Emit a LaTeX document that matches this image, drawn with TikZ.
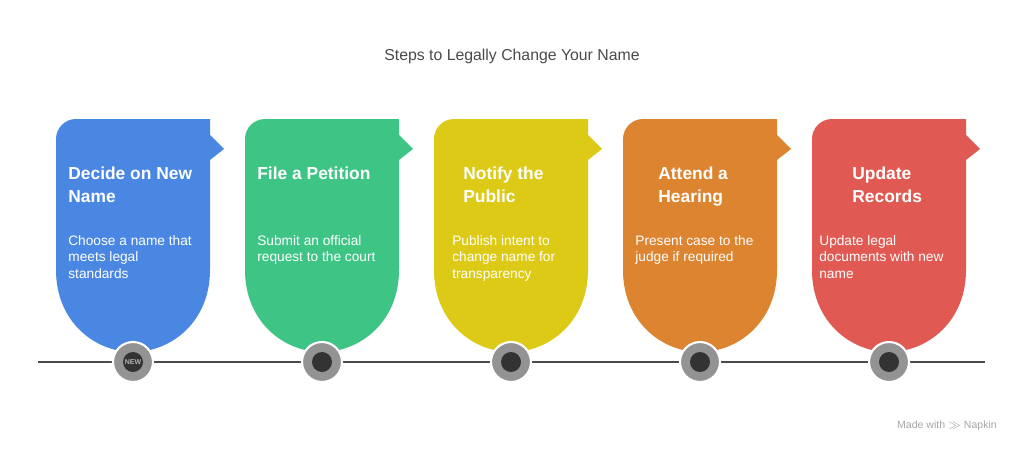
\documentclass[tikz,border=0pt]{standalone}
\usepackage{fontspec}
\setmainfont{Liberation Sans}
\usetikzlibrary{positioning}
\definecolor{cblue}{HTML}{4A87E2}
\definecolor{cgreen}{HTML}{3EC585}
\definecolor{cyellow}{HTML}{DCCA17}
\definecolor{corange}{HTML}{DD8431}
\definecolor{cred}{HTML}{E05A53}
\definecolor{cline}{HTML}{4A4A4A}
\tikzset{
heading/.style={anchor=north west, align=left, text=white, font=\bfseries\fontsize{9.9}{12.6}\selectfont, inner sep=0pt},
body/.style={anchor=north west, align=left, text=white, font=\fontsize{7.8}{9.4}\selectfont, inner sep=0pt},
icon/.style={circle, fill=gray!85, draw=white, line width=1.2pt, minimum size=0.8cm, inner sep=0pt}
}
\begin{document}
\begin{tikzpicture}[x=0.02cm, y=-0.02cm]
\useasboundingbox (0,0) rectangle (1024,453);

\node (title) at (512,56) {\fontsize{9}{11}\selectfont\color{cline} Steps to Legally Change Your Name};

\draw[cline, line width=1pt] (38,362) -- (985,362);

\foreach \i/\col/\hx/\headtxt/\bx/\bodytxt in {
0/cblue/12/{Decide on New\\Name}/12/{Choose a name that\\meets legal\\standards},
1/cgreen/12/{File a Petition}/12/{Submit an official\\request to the court},
2/cyellow/29/{Notify the\\Public}/18/{Publish intent to\\change name for\\transparency},
3/corange/35/{Attend a\\Hearing}/12/{Present case to the\\judge if required},
4/cred/40/{Update\\Records}/7/{Update legal\\documents with new\\name}}
{
\pgfmathsetmacro{\L}{56+189*\i}
\fill[\col] (\L,139) arc (180:270:20) -- (\L+154,119) -- (\L+154,135) -- (\L+168,149)
  -- (\L+154,160) -- (\L+154,270) .. controls (\L+154,322) and (\L+115,352) .. (\L+77,352)
  .. controls (\L+39,352) and (\L,322) .. (\L,270) -- cycle;
\node[heading] (head\i) at (\L+\hx,167) {\headtxt};
\node[body] (text\i) at (\L+\bx,235) {\bodytxt};
\node[icon] (icon\i) at (\L+77,362) {};
\fill[gray!40!black] (icon\i.center) circle (10);
}
\node[font=\fontsize{4}{5}\selectfont\bfseries, text=gray!60] at (icon0) {NEW};

\node[anchor=east, text=gray!70, font=\fontsize{6}{7}\selectfont] (napkin) at (1003,426) {Made with $\gg$ Napkin};
\end{tikzpicture}
\end{document}
